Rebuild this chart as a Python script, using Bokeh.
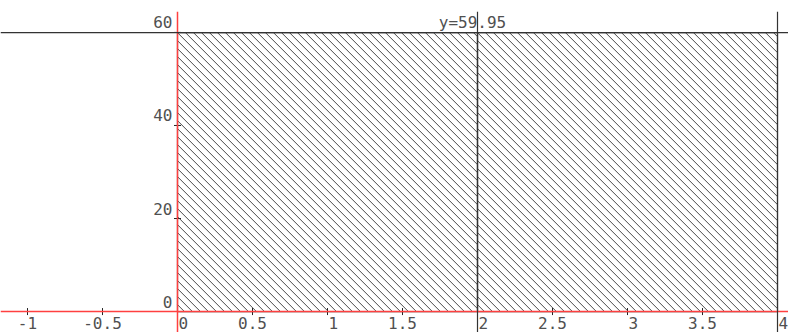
import math
from bokeh.plotting import figure
from bokeh.models import Span, Range1d, ColumnDataSource, Label
from bokeh.embed import file_html
from bokeh.resources import INLINE
from bokeh.core.properties import value

# ---- data ----
bar_left = [0, 2]
bar_right = [2, 4]
bar_height = [59.95, 59.95]
level = 59.95
level_label = "y=59.95"

x_tick_values = [-1, -0.5, 0.5, 1, 1.5, 2.5, 3, 3.5]
x_label_values = [-1, -0.5, 0, 0.5, 1, 1.5, 2, 2.5, 3, 3.5, 4]
x_label_texts = ["-1", "-0.5", "0", "0.5", "1", "1.5", "2", "2.5", "3", "3.5", "4"]
y_tick_values = [20, 40, 60]
y_label_values = [0, 20, 40, 60]
y_label_texts = ["0", "20", "40", "60"]

FONT = "DejaVu Sans Mono"
TXT = "#505050"
FS = "16px"

W, H = 788, 332
TOP = 11
X0, X1 = -1.18, 4.0733
Y0, Y1 = -4.5, 64.5

p = figure(width=W, height=H, output_backend="svg", toolbar_location=None,
           x_range=Range1d(X0, X1), y_range=Range1d(Y0, Y1),
           min_border_left=0, min_border_right=0, min_border_bottom=0, min_border_top=TOP)
p.axis.visible = False
p.grid.visible = False
p.outline_line_color = None
p.background_fill_color = "white"

# pixel scales (for 45-degree hatching)
sx = W / (X1 - X0)
sy = (H - TOP) / (Y1 - Y0)
SPACING = 8.0  # px, horizontal distance between hatch lines

hx0, hx1, hy0, hy1 = [], [], [], []
for L, R, T in zip(bar_left, bar_right, bar_height):
    wpx = (R - L) * sx
    hpx = T * sy
    c = -hpx + (hpx % SPACING)
    while c < wpx:
        xa = max(0.0, c)
        xb = min(wpx, c + hpx)
        if xb > xa:
            ya, yb = xa - c, xb - c  # px down from top
            hx0.append(L + xa / sx); hy0.append(T - ya / sy)
            hx1.append(L + xb / sx); hy1.append(T - yb / sy)
        c += SPACING

p.segment(x0=hx0, y0=hy0, x1=hx1, y1=hy1, line_color="#4a4a4a", line_width=1)

# red axes
p.add_layout(Span(location=0, dimension="width", line_color="#ff4040", line_width=1.5))
p.add_layout(Span(location=0, dimension="height", line_color="#ff4040", line_width=1.5))

# bar outlines
src = ColumnDataSource(dict(left=bar_left, right=bar_right, top=bar_height,
                            bottom=[0] * len(bar_left)))
p.quad(left="left", right="right", top="top", bottom="bottom", source=src,
       fill_color=None, line_color="#333333", line_width=1.2)

# level line and vertical lines
p.add_layout(Span(location=level, dimension="width", line_color="#333333", line_width=1.2))
for r in bar_right:
    p.add_layout(Span(location=r, dimension="height", line_color="#333333", line_width=1.2))

# tick marks
p.scatter(x=x_tick_values, y=[0] * len(x_tick_values), marker="dash", angle=math.pi / 2,
          size=7, line_color="#222222", line_width=1)
p.scatter(x=[0] * len(y_tick_values), y=y_tick_values, marker="dash",
          size=7, line_color="#222222", line_width=1)

# x tick labels
is_int = [float(v).is_integer() and v >= 0 for v in x_label_values]
int_pos = [v for v, k in zip(x_label_values, is_int) if k]
int_txt = [t for t, k in zip(x_label_texts, is_int) if k]
oth_pos = [v for v, k in zip(x_label_values, is_int) if not k]
oth_txt = [t for t, k in zip(x_label_texts, is_int) if not k]
p.text(x=int_pos, y=[0] * len(int_pos), text=int_txt, text_font=value(FONT),
       text_font_size=FS, text_color=TXT, text_align="left", text_baseline="top",
       x_offset=1, y_offset=5)
p.text(x=oth_pos, y=[0] * len(oth_pos), text=oth_txt, text_font=value(FONT),
       text_font_size=FS, text_color=TXT, text_align="center", text_baseline="top",
       x_offset=0, y_offset=5)

# y tick labels
p.text(x=[0] * len(y_label_values), y=y_label_values, text=y_label_texts,
       text_font=value(FONT), text_font_size=FS, text_color=TXT,
       text_align="right", text_baseline="bottom", x_offset=-5, y_offset=-4)

# level label
p.add_layout(Label(x=(bar_left[0] + bar_right[-1]) / 2, y=level, text=level_label,
                   text_font=FONT, text_font_size=FS, text_color=TXT,
                   text_align="center", text_baseline="bottom", x_offset=-5, y_offset=1))

open("out.html", "w").write(file_html(p, INLINE))
